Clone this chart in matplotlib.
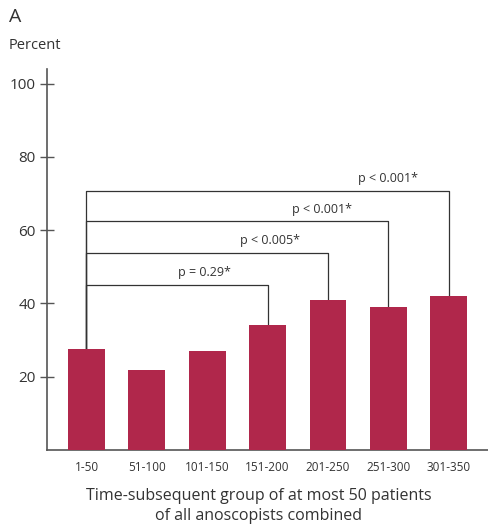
import matplotlib
matplotlib.use('Agg')
import matplotlib.pyplot as plt

# --- DATA ---
groups = ['1-50', '51-100', '101-150', '151-200', '201-250', '251-300', '301-350']
percent = [27.6, 21.8, 27.0, 34.1, 40.9, 39.0, 42.0]

# comparisons against group 0: (target group, bracket height, label)
cmp_target = [3, 4, 5, 6]
cmp_level = [45.1, 53.9, 62.4, 70.7]
cmp_label = ['p = 0.29*', 'p < 0.005*', 'p < 0.001*', 'p < 0.001*']
cmp_label_x = [1.95, 3.04, 3.9, 4.99]

C = dict(bar='#B0274B', text='#333333', axis='#555555', line='#333333')
plt.rcParams['font.family'] = ['Open Sans', 'DejaVu Sans']

fig = plt.figure(figsize=(4.88, 5.25), dpi=100)
ax = fig.add_axes([0.0963, 0.1429, 0.9037, 0.7257])

x = list(range(len(groups)))
ax.bar(x, percent, width=0.61, color=C['bar'], zorder=3)

# significance brackets
for tgt, lvl, lab, lx in zip(cmp_target, cmp_level, cmp_label, cmp_label_x):
    ax.plot([0, 0, tgt, tgt], [percent[0], lvl, lvl, percent[tgt]],
            color=C['line'], lw=0.9, zorder=2)
    ax.text(lx, lvl + 1.6, lab, ha='center', va='bottom',
            fontsize=9, color=C['text'])

ax.set_xlim(-0.654, 6.65)
ax.set_ylim(0, 104)
ax.set_yticks([20, 40, 60, 80, 100])
ax.set_xticks(x)
ax.set_xticklabels(groups, fontsize=8.5, color=C['text'])
ax.tick_params(axis='x', length=0, pad=8)
ax.tick_params(axis='y', direction='inout', length=10, width=1,
               color=C['axis'], labelsize=11, labelcolor=C['text'], pad=3)
for s in ['top', 'right']:
    ax.spines[s].set_visible(False)
for s in ['left', 'bottom']:
    ax.spines[s].set_color(C['axis'])
    ax.spines[s].set_linewidth(1.2)

ax.set_xlabel('Time-subsequent group of at most 50 patients\nof all anoscopists combined',
              fontsize=11.5, color=C['text'], linespacing=1.35)
ax.xaxis.set_label_coords(0.48, -0.1, transform=ax.transAxes)
ax.xaxis.label.set_va('top')

fig.text(0.018, 0.967, 'A', fontsize=14, color=C['text'], va='center')
fig.text(0.018, 0.914, 'Percent', fontsize=10.5, color=C['text'], va='center')

plt.savefig('out.png', dpi=100)
